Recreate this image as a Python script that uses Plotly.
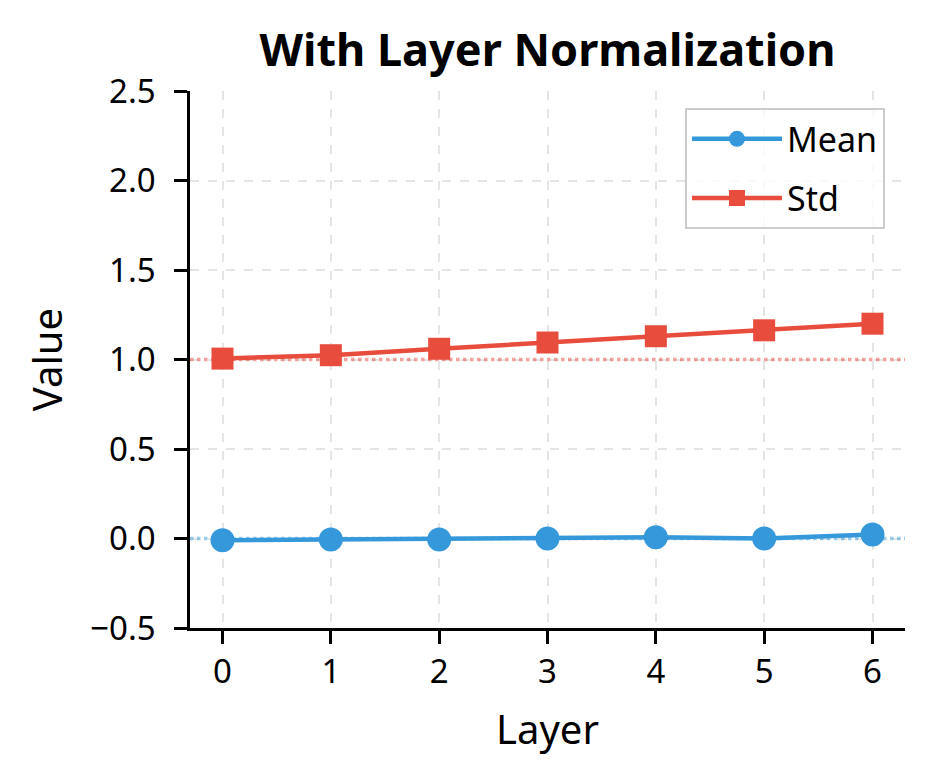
import plotly.graph_objects as go

layers = [0, 1, 2, 3, 4, 5, 6]
mean_vals = [-0.010, -0.005, -0.005, 0.000, 0.007, 0.000, 0.022]
std_vals = [1.005, 1.024, 1.060, 1.095, 1.130, 1.163, 1.200]
ref_mean = 0.0
ref_std = 1.0
y_ticks = [-0.5, 0.0, 0.5, 1.0, 1.5, 2.0, 2.5]
y_tick_text = ["\u22120.5", "0.0", "0.5", "1.0", "1.5", "2.0", "2.5"]

BLUE = "#3498db"
RED = "#e74c3c"
FONT = "Noto Sans"

W, H = 926, 776
L, R, T, B = 182, 29, 83, 156

fig = go.Figure()

# reference lines
fig.add_trace(go.Scatter(x=[-0.3, 6.3], y=[ref_std, ref_std], mode="lines",
                         line=dict(color="rgba(231,76,60,0.5)", width=3.5, dash="dot"),
                         showlegend=False, hoverinfo="skip"))
fig.add_trace(go.Scatter(x=[-0.3, 6.3], y=[ref_mean, ref_mean], mode="lines",
                         line=dict(color="rgba(52,152,219,0.5)", width=3.5, dash="dot"),
                         showlegend=False, hoverinfo="skip"))

fig.add_trace(go.Scatter(x=layers, y=mean_vals, mode="lines+markers", name="Mean",
                         legendgroup="m",
                         line=dict(color=BLUE, width=4.5),
                         marker=dict(symbol="circle", size=24, color=BLUE)))
fig.add_trace(go.Scatter(x=layers, y=std_vals, mode="lines+markers", name="Std",
                         legendgroup="s",
                         line=dict(color=RED, width=4.5),
                         marker=dict(symbol="square", size=22, color=RED)))

fig.update_layout(
    width=W, height=H,
    margin=dict(l=L, r=R, t=T, b=B, pad=0),
    paper_bgcolor="white", plot_bgcolor="white",
    font=dict(family=FONT, size=33, color="black"),
    title=dict(text="<b>With Layer Normalization</b>", x=(L + (W - R)) / 2 / W, xanchor="center",
               y=1 - 42 / H, yanchor="middle", font=dict(size=45, family=FONT)),
    legend=dict(x=0.972, y=0.968, xanchor="right", yanchor="top",
                bgcolor="rgba(255,255,255,0.8)", bordercolor="#cccccc", borderwidth=2,
                font=dict(size=34, family=FONT), traceorder="grouped", tracegroupgap=12,
                itemwidth=90),
    xaxis=dict(range=[-0.3, 6.3], tickvals=layers, showline=True, linecolor="black", linewidth=2.5,
               ticks="outside", ticklen=13, tickwidth=2.5, tickcolor="black",
               showgrid=True, gridcolor="rgba(0,0,0,0.1)", griddash="dash", gridwidth=2,
               zeroline=False, mirror=False, ticklabelstandoff=0,
               title=dict(text="Layer", font=dict(size=40), standoff=24)),
    yaxis=dict(range=[-0.5, 2.5], tickvals=y_ticks, ticktext=y_tick_text, showline=True,
               linecolor="black", linewidth=2.5, ticks="outside", ticklen=13, tickwidth=2.5, tickcolor="black",
               showgrid=True, gridcolor="rgba(0,0,0,0.1)", griddash="dash", gridwidth=2,
               zeroline=False, mirror=False, ticklabelstandoff=12,
               title=dict(text="Value", font=dict(size=40), standoff=16)),
)

fig.write_html("out.html")
